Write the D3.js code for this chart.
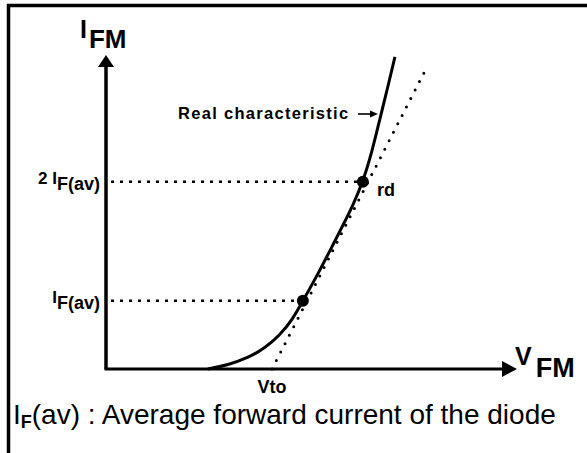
<!DOCTYPE html>
<html><head><meta charset="utf-8">
<script src="https://cdn.jsdelivr.net/npm/d3@7/dist/d3.min.js"></script>
<style>
html,body{margin:0;padding:0;background:#fff;}
svg{display:block;font-family:"Liberation Sans",Arial,sans-serif;}
</style></head>
<body>
<svg id="c" width="587" height="453"></svg>
<script>
// Real characteristic (forward voltage V, current I) in arbitrary units
const curveV = [2.48, 2.97, 3.45, 3.87, 4.23, 4.53, 4.79, 5.16, 5.57, 5.77, 6.01, 6.25, 6.47, 6.67, 6.84, 7.03];
const curveI = [0, 0.13, 0.35, 0.67, 1.08, 1.56, 2.17, 3.03, 4.08, 4.59, 5.22, 5.96, 6.91, 8.0, 8.89, 9.94];
// Linear approximation (tangent) starting at Vto
const tangentV = [4.04, 7.81];
const tangentI = [0, 9.62];
// Marked operating points
const pointV = [4.79, 6.25];
const pointI = [2.17, 5.96];
const pointMain = ["I", "2 I"];
const pointSub = ["F(av)", "F(av)"];
const vtoLabel = "Vto";

const svg = d3.select("#c");
const x = d3.scaleLinear().domain([0, 10]).range([106, 517]);
const y = d3.scaleLinear().domain([0, 10]).range([369, 55]);

// frame
svg.append("path").attr("d", "M8.5,453 V5.5 H587")
  .attr("fill", "none").attr("stroke", "#000").attr("stroke-width", 3.5);

// axes
svg.append("line").attr("x1", x(0)).attr("y1", y(0)).attr("x2", x(0)).attr("y2", y(10) + 10)
  .attr("stroke", "#000").attr("stroke-width", 3.5);
svg.append("line").attr("x1", x(0) - 1.5).attr("y1", y(0)).attr("x2", x(10) - 12).attr("y2", y(0))
  .attr("stroke", "#000").attr("stroke-width", 3);
svg.append("path").attr("d", `M${x(0)},${y(10)} L${x(0) - 8},${y(10) + 12} L${x(0) + 8},${y(10) + 12} Z`).attr("fill", "#000");
svg.append("path").attr("d", `M${x(10)},${y(0)} L${x(10) - 15},${y(0) - 8} L${x(10) - 15},${y(0) + 8} Z`).attr("fill", "#000");

// axis titles
const t1 = svg.append("text").attr("x", 80).attr("y", 38).attr("font-weight", "bold").attr("font-size", 25);
t1.append("tspan").text("I");
t1.append("tspan").attr("dx", 2).attr("dy", 10).attr("font-size", 26).text("FM");
const t2 = svg.append("text").attr("x", 515).attr("y", 365).attr("font-weight", "bold");
t2.append("tspan").attr("font-size", 25).text("V");
t2.append("tspan").attr("dx", 4).attr("dy", 12).attr("font-size", 27).text("FM");

// horizontal dotted guides
pointV.forEach((v, i) => {
  svg.append("line").attr("x1", x(0) + 5).attr("x2", x(v)).attr("y1", y(pointI[i])).attr("y2", y(pointI[i]))
    .attr("stroke", "#000").attr("stroke-width", 2.5).attr("stroke-dasharray", "3 6");
});

// tangent
const tline = d3.line().x((d, i) => x(tangentV[i])).y((d, i) => y(tangentI[i]));
svg.append("path").attr("d", tline(tangentV)).attr("fill", "none").attr("stroke", "#000")
  .attr("stroke-width", 3).attr("stroke-linecap", "round").attr("stroke-dasharray", "0 9.5");

// curve
const cline = d3.line().x((d, i) => x(curveV[i])).y((d, i) => y(curveI[i])).curve(d3.curveBasis);
svg.append("path").attr("d", cline(curveV)).attr("fill", "none").attr("stroke", "#000").attr("stroke-width", 3);

// points
pointV.forEach((v, i) => {
  svg.append("circle").attr("cx", x(v)).attr("cy", y(pointI[i])).attr("r", 6).attr("fill", "#000");
});

// point labels
pointV.forEach((v, i) => {
  const t = svg.append("text").attr("x", x(0) - 6).attr("y", y(pointI[i]) + 2)
    .attr("text-anchor", "end").attr("font-weight", "bold");
  t.append("tspan").attr("font-size", 17).text(pointMain[i]);
  t.append("tspan").attr("font-size", 18).attr("dy", 6).text(pointSub[i]);
});

// annotations
svg.append("text").attr("x", x(pointV[1]) + 14).attr("y", y(pointI[1]) + 14)
  .attr("font-weight", "bold").attr("font-size", 18).text("rd");
svg.append("text").attr("x", 178).attr("y", 119).attr("font-weight", "bold").attr("font-size", 16.5)
  .attr("letter-spacing", 1.3).text("Real characteristic");
svg.append("line").attr("x1", 358).attr("x2", 372).attr("y1", 114).attr("y2", 114)
  .attr("stroke", "#000").attr("stroke-width", 1.6);
svg.append("path").attr("d", "M378,114 L370,110.5 L370,117.5 Z").attr("fill", "#000");
svg.append("text").attr("x", x(tangentV[0])).attr("y", 393).attr("text-anchor", "middle")
  .attr("font-weight", "bold").attr("font-size", 18).text(vtoLabel);

// caption
const cap = svg.append("text").attr("x", 13).attr("y", 424).attr("font-size", 28);
cap.append("tspan").text("I");
cap.append("tspan").attr("font-weight", "bold").attr("font-size", 18).attr("dy", 4).text("F");
cap.append("tspan").attr("dy", -4).text("(av) : Average forward current of the diode");
</script>
</body></html>
